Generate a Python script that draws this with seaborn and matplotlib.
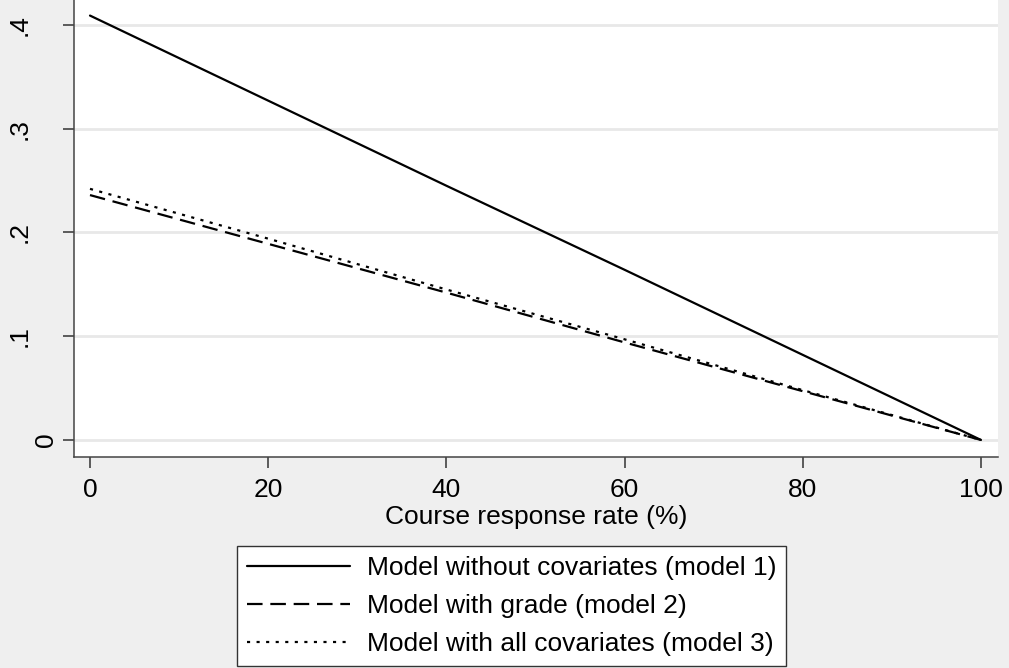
import pandas as pd
import numpy as np
import matplotlib
matplotlib.use('Agg')
import matplotlib.pyplot as plt
import matplotlib.transforms as mtransforms
import seaborn as sns

# Data (predicted values along course response rate)
response_rate = [0, 20, 40, 60, 80, 100]
model1 = [0.409, 0.327, 0.245, 0.164, 0.082, 0.0]
model2 = [0.236, 0.189, 0.142, 0.094, 0.047, 0.0]
model3 = [0.242, 0.194, 0.145, 0.097, 0.048, 0.0]
labels = ['Model without covariates (model 1)',
          'Model with grade (model 2)',
          'Model with all covariates (model 3)']
y_ticks = [0, 0.1, 0.2, 0.3, 0.4]
y_ticklabels = ['0', '.1', '.2', '.3', '.4']
x_ticks = [0, 20, 40, 60, 80, 100]

df_list = []
for label, vals in zip(labels, [model1, model2, model3]):
    df_list.append(pd.DataFrame({'rate': response_rate, 'value': vals, 'model': label}))
df = pd.concat(df_list, ignore_index=True)

sns.set_style('white')
plt.rcParams['font.family'] = ['Liberation Sans', 'DejaVu Sans']
plt.rcParams['text.color'] = 'black'
plt.rcParams['axes.labelcolor'] = 'black'

bg = '#efefef'
fs = 19
fig = plt.figure(figsize=(10.09, 6.68), dpi=100, facecolor=bg)
ax = fig.add_axes([0.0733, 0.3159, 0.9157, 0.6841])
ax.set_facecolor('white')

dashes = {labels[0]: '', labels[1]: (7, 3.5), labels[2]: (1.4, 2.9)}
sns.lineplot(data=df, x='rate', y='value', style='model', dashes=dashes,
             color='black', linewidth=1.6, ax=ax, legend=True)

# grab handles and drop seaborn's own legend
handles, lbls = ax.get_legend_handles_labels()
ax.get_legend().remove()

ax.set_xlim(-1.8, 101.9)
ax.set_ylim(-0.0164, 0.424)
ax.set_xticks(x_ticks)
ax.set_yticks(y_ticks)
ax.set_yticklabels(y_ticklabels, rotation=90, va='center')
ax.tick_params(axis='both', direction='out', length=8, width=1.1, color='#333333',
               labelcolor='black', labelsize=fs, left=True, bottom=True)
ax.tick_params(axis='x', pad=7)
ax.tick_params(axis='y', pad=22.3)
# the "0" label sits closer to the axis in the original
zero_lbl = ax.get_yticklabels()[0]
zero_lbl.set_transform(zero_lbl.get_transform() +
                       mtransforms.ScaledTranslation(18.7 / 72, 0, fig.dpi_scale_trans))

ax.yaxis.grid(True, color='#e8e8e8', linewidth=2)
ax.set_axisbelow(True)
for s in ['top', 'right']:
    ax.spines[s].set_visible(False)
for s in ['left', 'bottom']:
    ax.spines[s].set_color('#444444')
    ax.spines[s].set_linewidth(1.1)

ax.set_xlabel('Course response rate (%)', fontsize=fs, labelpad=2.3, color='black')
ax.set_ylabel('')

leg = fig.legend(handles, lbls, loc='upper center',
                 bbox_to_anchor=(511.5 / 1009, 1 - 546 / 668),
                 frameon=True, fancybox=False, edgecolor='#333333', facecolor='white',
                 framealpha=1, fontsize=fs, labelcolor='black',
                 handlelength=3.9, borderpad=0.38, labelspacing=0.53,
                 handletextpad=0.64, borderaxespad=0)
leg.get_frame().set_linewidth(1.0)
for h in leg.get_lines():
    h.set_linewidth(1.6)

fig.savefig('out.png', dpi=100, facecolor=bg)
